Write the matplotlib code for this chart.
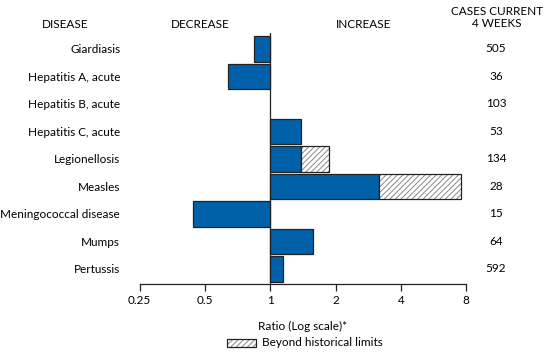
import matplotlib
matplotlib.use("Agg")
import matplotlib.pyplot as plt
from matplotlib.patches import Rectangle
from matplotlib import transforms

# Data
diseases = ["Giardiasis", "Hepatitis A, acute", "Hepatitis B, acute",
            "Hepatitis C, acute", "Legionellosis", "Measles",
            "Meningococcal disease", "Mumps", "Pertussis"]
ratios = [0.84, 0.64, 1.0, 1.38, 1.39, 3.18, 0.44, 1.58, 1.14]
beyond = [None, None, None, None, 1.87, 7.6, None, None, None]
cases = [505, 36, 103, 53, 134, 28, 15, 64, 592]
xticks = [0.25, 0.5, 1, 2, 4, 8]
xticklabels = ["0.25", "0.5", "1", "2", "4", "8"]

blue = "#0061a9"
edge = "#222222"
plt.rcParams["font.family"] = ["Lato", "DejaVu Sans"]
plt.rcParams["hatch.linewidth"] = 0.7
fs = 8.5

W, H = 547, 355
fig = plt.figure(figsize=(W / 100, H / 100), dpi=100)
ax = fig.add_axes([139.6 / W, 1 - 284 / H, (466.3 - 139.6) / W, (284 - 33) / H])

y = list(range(len(diseases)))
for i, r in enumerate(ratios):
    if r != 1.0:
        left, right = min(r, 1), max(r, 1)
        ax.barh(i, right - left, left=left, height=0.93, color=blue,
                edgecolor=edge, linewidth=0.9, zorder=2)
    if beyond[i] is not None:
        ax.barh(i, beyond[i] - r, left=r, height=0.93, color="white",
                edgecolor="#888888", hatch="//////", linewidth=0, zorder=2)
        ax.barh(i, beyond[i] - r, left=r, height=0.93, color="none",
                edgecolor=edge, linewidth=0.9, zorder=3)

ax.set_xscale("log", base=2)
ax.set_xlim(0.25, 8)
ax.set_ylim(len(diseases) - 1 + 0.553, -0.575)
ax.set_xticks(xticks)
ax.set_xticklabels(xticklabels, fontsize=fs)
ax.minorticks_off()
ax.tick_params(axis="x", direction="out", length=5, width=0.9, color=edge, pad=3)
ax.set_yticks(y)
ax.set_yticklabels(diseases, fontsize=fs)
ax.tick_params(axis="y", length=0, pad=14)
for s in ["top", "right", "left"]:
    ax.spines[s].set_visible(False)
ax.spines["bottom"].set_linewidth(0.9)
ax.spines["bottom"].set_color(edge)
ax.axvline(1, color=edge, linewidth=0.9, zorder=4)

# counts column
tr = transforms.blended_transform_factory(fig.transFigure, ax.transData)
for i, c in enumerate(cases):
    ax.text(496 / W, i, str(c), transform=tr, ha="center", va="center",
            fontsize=fs)

# headers
fig.text(65 / W, 1 - 24 / H, "DISEASE", ha="center", va="center", fontsize=fs)
fig.text(200 / W, 1 - 24 / H, "DECREASE", ha="center", va="center", fontsize=fs)
fig.text(364 / W, 1 - 24 / H, "INCREASE", ha="center", va="center", fontsize=fs)
fig.text(497 / W, 1 - 17.5 / H, "CASES CURRENT\n4 WEEKS", ha="center",
         va="center", fontsize=fs, linespacing=1.05)

ax.set_xlabel("Ratio (Log scale)*", fontsize=fs, labelpad=11)

# legend
fig.add_artist(Rectangle((227 / W, 1 - 347 / H), 29 / W, 8 / H,
                         transform=fig.transFigure, facecolor="white",
                         edgecolor="#888888", hatch="//////", linewidth=0))
fig.add_artist(Rectangle((227 / W, 1 - 347 / H), 29 / W, 8 / H,
                         transform=fig.transFigure, facecolor="none",
                         edgecolor=edge, linewidth=0.9))
fig.text(262 / W, 1 - 343 / H, "Beyond historical limits", ha="left",
         va="center", fontsize=fs)

fig.savefig("out.png", dpi=100)
